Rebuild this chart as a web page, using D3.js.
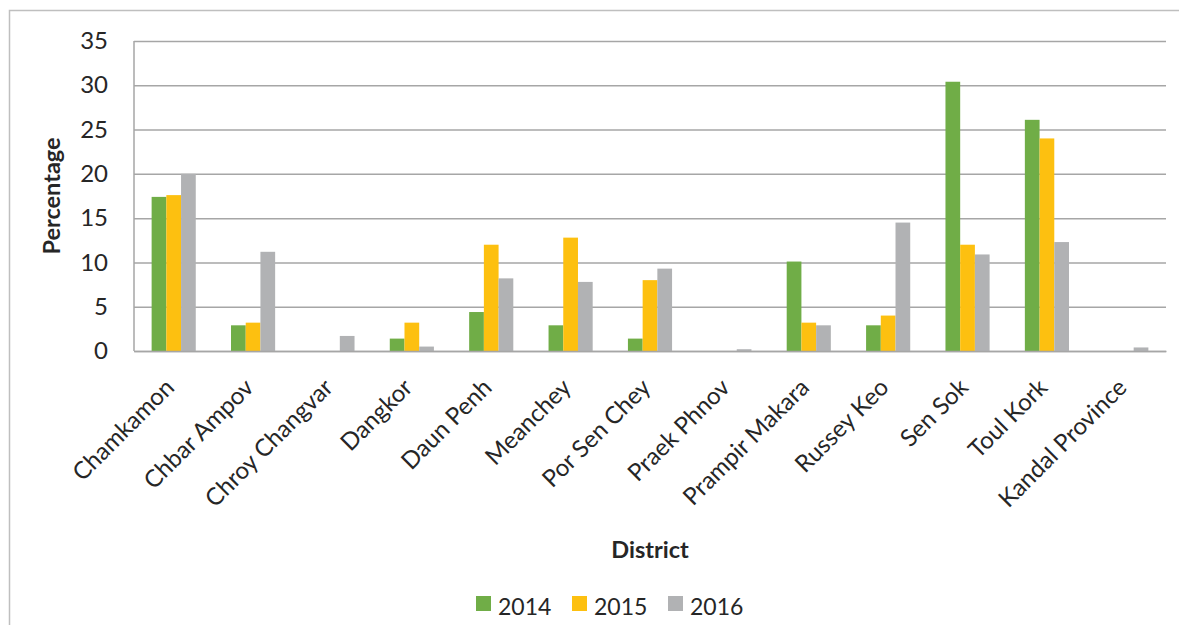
<!DOCTYPE html>
<html>
<head>
<meta charset="utf-8">
<script src="https://cdn.jsdelivr.net/npm/d3@7"></script>
<style>
  body { margin: 0; background: #fff; }
  svg text { font-family: Lato, "Open Sans", sans-serif; fill: #262626; }
</style>
</head>
<body>
<svg id="chart"></svg>
<script>
// districts and yearly percentages
const districts = ["Chamkamon", "Chbar Ampov", "Chroy Changvar", "Dangkor", "Daun Penh", "Meanchey",
    "Por Sen Chey", "Praek Phnov", "Prampir Makara", "Russey Keo", "Sen Sok", "Toul Kork", "Kandal Province"]
const years = ["2014", "2015", "2016"]
const values2014 = [17.4, 2.9, 0, 1.4, 4.4, 2.9, 1.4, 0, 10.1, 2.9, 30.4, 26.1, 0]
const values2015 = [17.6, 3.2, 0, 3.2, 12.0, 12.8, 8.0, 0, 3.2, 4.0, 12.0, 24.0, 0]
const values2016 = [20.0, 11.2, 1.7, 0.5, 8.2, 7.8, 9.3, 0.2, 2.9, 14.5, 10.9, 12.3, 0.4]
const yTicks = [0, 5, 10, 15, 20, 25, 30, 35]
const colors = ["#70ad47", "#fdc010", "#b1b2b4"]

const width = 1179, height = 625
const margins = {left: 134, right: 13, top: 41, bottom: 274}

const series = [values2014, values2015, values2016]

const svg = d3.select("#chart").attr("width", width).attr("height", height)

// outer chart frame
svg.append("rect")
    .attr("x", 9.5).attr("y", 10.5)
    .attr("width", width + 20).attr("height", height + 20)
    .attr("fill", "none").attr("stroke", "#bfbfbf").attr("stroke-width", 1.5)

const scaleX = d3.scaleBand().domain(districts)
    .range([margins.left, width - margins.right])
const scaleInner = d3.scaleBand().domain(years)
    .range([0, scaleX.bandwidth() * 0.556])
const scaleY = d3.scaleLinear().domain([0, 35])
    .range([height - margins.bottom, margins.top])
const colorScale = d3.scaleOrdinal().domain(years).range(colors)

// gridlines
const yAxis = d3.axisLeft(scaleY).tickValues(yTicks)
    .tickSize(-(width - margins.left - margins.right)).tickPadding(26)
const yG = svg.append("g").attr("transform", `translate(${margins.left},0)`).call(yAxis)
yG.select(".domain").remove()
yG.selectAll(".tick line").attr("stroke", "#a6a6a6").attr("stroke-width", 1.5)
yG.selectAll(".tick text").attr("font-size", 24).style("font-family", "Lato, sans-serif").attr("fill", "#262626")

// left axis line
svg.append("line")
    .attr("x1", margins.left).attr("x2", margins.left)
    .attr("y1", margins.top).attr("y2", scaleY(0))
    .attr("stroke", "#a6a6a6").attr("stroke-width", 1.5)

// bars
const offset = (scaleX.bandwidth() - scaleInner.range()[1]) / 2
const groups = svg.append("g").selectAll("g")
    .data(districts)
    .join("g")
    .attr("transform", d => `translate(${scaleX(d) + offset},0)`)

groups.selectAll("rect")
    .data((d, i) => years.map((y, j) => ({year: y, value: series[j][i]})))
    .join("rect")
    .attr("x", d => scaleInner(d.year))
    .attr("width", scaleInner.bandwidth())
    .attr("y", d => scaleY(d.value))
    .attr("height", d => scaleY(0) - scaleY(d.value))
    .attr("fill", d => colorScale(d.year))

// x axis
const xAxis = d3.axisBottom(scaleX).tickSize(0).tickPadding(0)
const xG = svg.append("g").attr("transform", `translate(0,${scaleY(0)})`).call(xAxis)
xG.select(".domain").attr("stroke", "#a6a6a6").attr("stroke-width", 1.5)
xG.selectAll(".tick text")
    .attr("font-size", 24)
    .style("font-family", "Lato, sans-serif")
    .attr("fill", "#262626")
    .attr("text-anchor", "end")
    .attr("dy", 0)
    .attr("transform", "translate(2,38) rotate(-45)")

// axis titles
svg.append("text")
    .attr("transform", `translate(60,${(margins.top + scaleY(0)) / 2}) rotate(-90)`)
    .attr("text-anchor", "middle")
    .attr("font-size", 23.5).attr("font-weight", "bold")
    .text("Percentage")

svg.append("text")
    .attr("x", 650).attr("y", 558)
    .attr("text-anchor", "middle")
    .attr("font-size", 23.5).attr("font-weight", "bold")
    .text("District")

// legend
const legendX = d3.scalePoint().domain(years).range([476, 668])
const legend = svg.append("g").selectAll("g")
    .data(years)
    .join("g")
    .attr("transform", d => `translate(${legendX(d)},596)`)
legend.append("rect")
    .attr("width", 15).attr("height", 15)
    .attr("fill", d => colorScale(d))
legend.append("text")
    .attr("x", 22).attr("y", 19)
    .attr("font-size", 23)
    .text(d => d)
</script>
</body>
</html>
